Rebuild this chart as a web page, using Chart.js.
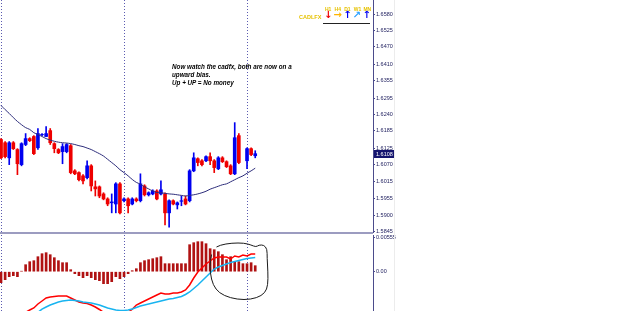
<!DOCTYPE html>
<html>
<head>
<meta charset="utf-8">
<script src="https://cdn.jsdelivr.net/npm/chart.js@4.4.1/dist/chart.umd.min.js"></script>
<style>
  body { margin: 0; background: #fff; width: 625px; height: 311px; overflow: hidden; position: relative; font-family: "Liberation Sans", Arial, sans-serif; }
  canvas { position: absolute; left: 0; }
  #main { top: 0; }
  #macd { top: 233px; }
  .sep { position: absolute; left: 0; top: 232px; width: 373px; height: 2px; background: #9c9cc0; }
  .edge { position: absolute; left: 394px; top: 0; width: 1px; height: 311px; background: #ececec; }
  .note { position: absolute; left: 172px; top: 63px; font: italic bold 6.3px "Liberation Sans", Arial, sans-serif; line-height: 8px; color: #000; white-space: nowrap; }
  .pair { position: absolute; left: 299px; top: 14px; font: bold 5.5px "Liberation Sans", Arial, sans-serif; color: #e6c200; }
  .tf { position: absolute; top: 6px; font: bold 5px "Liberation Sans", Arial, sans-serif; color: #e6c200; }
  .arr { position: absolute; top: 10px; font: bold 10px "DejaVu Sans", sans-serif; line-height: 10px; }
  .uline { position: absolute; left: 323px; top: 23px; width: 47px; height: 1px; background: #222; }
</style>
</head>
<body>
<canvas id="main" width="625" height="233"></canvas>
<canvas id="macd" width="625" height="78"></canvas>
<div class="sep"></div>
<div class="edge"></div>
<div class="note">Now watch the cadfx, both are now on a<br>upward bias.<br>Up + UP = No money</div>
<div class="pair">CADLFX</div>
<div id="tfbox"></div>
<div class="uline"></div>
<script>
// candles, oldest first
const open  = [1.6156,1.6145,1.6094,1.6145,1.6122,1.6071,1.6139,1.6159,1.6166,1.6128,
               1.6172,1.6166,1.6186,1.6142,1.6122,1.6115,1.6115,1.6135,1.6050,1.6044,
               1.6033,1.6027,1.6067,1.5996,1.5996,1.5972,1.5955,1.5942,1.5938,1.6006,
               1.5949,1.5955,1.5938,1.5955,1.5949,1.5999,1.5969,1.5972,1.5982,1.5972,
               1.5972,1.5908,1.5949,1.5935,1.5947,1.5955,1.5949,1.6050,1.6091,1.6084,
               1.6084,1.6098,1.6084,1.6057,1.6094,1.6081,1.6067,1.6040,1.6169,null,
               1.6084,1.6125,1.6101];
const high  = [1.6159,1.6149,1.6149,1.6149,1.6125,1.6145,1.6176,1.6162,1.6169,1.6193,
               1.6176,1.6200,1.6193,1.6145,1.6125,1.6142,1.6142,1.6139,1.6054,1.6047,
               1.6037,1.6084,1.6071,1.6016,1.5999,1.5976,1.5959,1.5972,1.6010,1.6010,
               1.5959,1.5959,1.5959,1.5959,1.6040,1.6003,1.5979,1.5986,1.5986,1.6016,
               1.5976,1.5952,1.5952,1.5945,1.5965,1.5965,1.6054,1.6111,1.6094,1.6088,
               1.6101,1.6111,1.6088,1.6098,1.6098,1.6084,1.6071,1.6213,1.6176,null,
               1.6128,1.6128,1.6118];
const low   = [1.6091,1.6094,1.6071,1.6122,1.6037,1.6067,1.6135,1.6149,1.6105,1.6122,
               1.6169,1.6166,1.6139,1.6111,1.6108,1.6074,1.6111,1.6040,1.6037,1.6016,
               1.6006,1.6023,1.5982,1.5965,1.5959,1.5952,1.5932,1.5908,1.5908,1.5904,
               1.5945,1.5908,1.5935,1.5945,1.5945,1.5965,1.5965,1.5969,1.5952,1.5969,
               1.5867,1.5860,1.5935,1.5921,1.5932,1.5935,1.5945,1.6047,1.6067,1.6067,
               1.6081,1.6071,1.6044,1.6054,1.6078,1.6061,1.6037,1.6037,1.6074,null,
               1.6057,1.6101,1.6094];
const close = [1.6094,1.6098,1.6145,1.6125,1.6074,1.6142,1.6159,1.6152,1.6108,1.6176,
               1.6173,1.6176,1.6145,1.6125,1.6111,1.6132,1.6139,1.6044,1.6040,1.6020,
               1.6016,1.6067,1.5999,1.5989,1.5965,1.5955,1.5938,1.5945,1.6006,1.5908,
               1.5955,1.5932,1.5955,1.5949,1.6006,1.5969,1.5976,1.5982,1.5955,1.5986,
               1.5908,1.5949,1.5938,1.5942,1.5949,1.5938,1.6050,1.6094,1.6078,1.6071,
               1.6098,1.6084,1.6061,1.6094,1.6081,1.6064,1.6040,1.6162,1.6078,null,
               1.6125,1.6105,1.6108];
// moving average
const ma    = [1.6271,1.6257,1.6244,1.6230,1.6217,1.6206,1.6196,1.6190,1.6179,1.6173,
               1.6166,1.6159,1.6154,1.6150,1.6147,1.6145,1.6144,1.6142,1.6139,1.6135,
               1.6132,1.6127,1.6122,1.6115,1.6108,1.6100,1.6089,1.6078,1.6067,1.6054,
               1.6044,1.6033,1.6021,1.6011,1.6005,1.5996,1.5989,1.5982,1.5977,1.5976,
               1.5974,1.5972,1.5971,1.5969,1.5967,1.5965,1.5967,1.5969,1.5972,1.5976,
               1.5981,1.5988,1.5993,1.5998,1.6003,1.6006,1.6013,1.6020,1.6027,1.6033,
               1.6042,1.6050,1.6059];
// lower window
const hist  = [-0.00176,-0.00128,-0.0008,-0.00064,-0.0008,0.00008,0.00112,0.0016,0.00176,0.0024,
               0.00288,0.00304,0.00272,0.00224,0.00176,0.00144,0.00144,0.00032,-0.00032,-0.00064,
               -0.00096,-0.00064,-0.00096,-0.00128,-0.00144,-0.00192,-0.00192,-0.0016,-0.0008,-0.00112,
               -0.0008,-0.00032,0.00016,0.00048,0.00144,0.00176,0.00192,0.00208,0.00224,0.0024,
               0.00128,0.00128,0.00128,0.00128,0.00128,0.00128,0.00432,0.00464,0.0048,0.0048,
               0.00448,0.00368,0.00352,0.0032,0.00272,0.00192,0.0024,0.0016,0.0016,0.00128,
               0.00128,0.00144,0.00096];
const redLine  = [-0.0085,-0.0082,-0.0078,-0.0074,-0.0071,-0.0068,-0.0065,-0.00613,-0.00581,-0.00517,
                  -0.00469,-0.00421,-0.00405,-0.00397,-0.00389,-0.00389,-0.0039,-0.00421,-0.00453,-0.00485,
                  -0.00501,-0.00509,-0.00533,-0.00565,-0.00605,-0.0065,-0.0068,-0.0070,-0.0070,-0.0069,
                  -0.0067,-0.0065,-0.0060,-0.00533,-0.00501,-0.00469,-0.00437,-0.00405,-0.00373,-0.00341,
                  -0.00357,-0.00357,-0.00341,-0.00341,-0.00325,-0.00293,-0.00213,-0.00101,-0.00005,0.00059,
                  0.00123,0.00171,0.00219,0.00235,0.00235,0.00235,0.00203,0.00251,0.00235,0.00267,
                  0.00251,0.00283,0.00283];
const cyanLine = [-0.0080,-0.0078,-0.0076,-0.0074,-0.0072,-0.0070,-0.0069,-0.0068,-0.0067,-0.0065,
                  -0.0060,-0.00565,-0.00533,-0.00509,-0.00485,-0.00469,-0.00461,-0.00453,-0.00461,-0.00469,
                  -0.00485,-0.00493,-0.00501,-0.00517,-0.00533,-0.00557,-0.00581,-0.00597,-0.00613,-0.00621,
                  -0.00621,-0.00613,-0.00597,-0.00573,-0.00549,-0.00533,-0.00517,-0.00501,-0.00485,-0.00469,
                  -0.00453,-0.00437,-0.00429,-0.00413,-0.00397,-0.00365,-0.00325,-0.00269,-0.00213,-0.00149,
                  -0.00085,-0.00021,0.00043,0.00075,0.00099,0.00123,0.00147,0.00163,0.00179,0.00195,
                  0.00211,0.00219,0.00227];
// axis labels
const priceTicks = [1.6580,1.6525,1.6470,1.6410,1.6355,1.6295,1.6240,1.6185,1.6125,1.6070,1.6015,1.5955,1.5900,1.5845];
const macdTicks = [0.00555, 0];
const macdTickLabels = ['0.00555', '0.00'];
const periodBreaks = [0, 30, 60];
// hand drawn ring around the crossing (bar index, value)
const ringIdx = [51.7,53.4,56.3,59.3,61.0,62.2,62.9,64.1,64.9,64.9,65.1,65.1,64.4,62.4,59.3,55.9,53.2,51.7,51.0,51.0,51.7];
const ringVal = [0.00363,0.00427,0.00459,0.00459,0.00427,0.00395,0.00427,0.00427,0.00363,0.00219,-0.00005,-0.00213,-0.00341,-0.00421,-0.00453,-0.00421,-0.00341,-0.00213,-0.00021,0.00187,0.00363];
const timeframes = ['H1', 'H4', 'D1', 'W1', 'MN'];
const tfArrows = ['\u2193', '\u2192', '\u2191', '\u2197', '\u2191'];

const BLUE = '#0000f0', RED = '#ee0000', AXIS = '#4b4b8b';
const X_MIN = -0.25, X_MAX = X_MIN + 373 / 4.1;

const tfColors = ['#ee0000', '#ffb400', '#0000f0', '#2aa0ff', '#0000f0'];
const tfbox = document.getElementById('tfbox');
timeframes.forEach((t, i) => {
  const l = document.createElement('div');
  l.className = 'tf'; l.textContent = t; l.style.left = (325 + i * 9.6) + 'px';
  tfbox.appendChild(l);
  const a = document.createElement('div');
  a.className = 'arr'; a.textContent = tfArrows[i]; a.style.color = tfColors[i];
  a.style.left = (324 + i * 9.6) + 'px';
  tfbox.appendChild(a);
});

const candleColor = i => (close[i] >= open[i] ? BLUE : RED);

function yAxis(min, max, ticks, fmt) {
  return {
    position: 'right', min, max,
    afterBuildTicks: s => { s.ticks = ticks.map(v => ({ value: v })); },
    afterFit: s => { s.width = 625 - 373; s.paddingTop = 0; s.paddingBottom = 0; },
    grid: { drawOnChartArea: false, drawTicks: true, tickLength: 2, color: AXIS },
    border: { display: true, color: AXIS },
    ticks: { padding: 1, color: '#1c1c5c', font: { family: 'Liberation Sans', size: 5.5 }, callback: fmt }
  };
}

const xAxis = { type: 'linear', min: X_MIN, max: X_MAX, offset: false, display: false };

const breaks = {
  id: 'breaks',
  beforeDatasetsDraw(chart) {
    const { ctx, chartArea, scales } = chart;
    ctx.save();
    ctx.strokeStyle = '#5a5ab0'; ctx.lineWidth = 1; ctx.setLineDash([1, 2]);
    periodBreaks.forEach(b => {
      const x = Math.round(scales.x.getPixelForValue(b)) + 0.5;
      ctx.beginPath(); ctx.moveTo(x, chartArea.top); ctx.lineTo(x, chartArea.bottom); ctx.stroke();
    });
    ctx.restore();
  }
};

const priceTag = {
  id: 'priceTag',
  afterDraw(chart) {
    const { ctx, scales } = chart;
    const last = close[close.length - 1];
    const y = scales.y.getPixelForValue(last);
    ctx.save();
    ctx.fillStyle = '#14146e';
    ctx.fillRect(374, Math.round(y) - 4, 21, 8);
    ctx.fillStyle = '#fff';
    ctx.font = '5.5px "Liberation Sans"';
    ctx.textBaseline = 'middle';
    ctx.fillText(last.toFixed(4), 376, Math.round(y));
    ctx.restore();
  }
};

const ring = {
  id: 'ring',
  afterDatasetsDraw(chart) {
    const { ctx, scales } = chart;
    const pts = ringIdx.map((v, i) => [scales.x.getPixelForValue(v), scales.y.getPixelForValue(ringVal[i])]);
    ctx.save();
    ctx.strokeStyle = '#1a1a1a'; ctx.lineWidth = 1;
    ctx.beginPath();
    ctx.moveTo((pts[0][0] + pts[1][0]) / 2, (pts[0][1] + pts[1][1]) / 2);
    for (let i = 1; i < pts.length - 1; i++) {
      const mx = (pts[i][0] + pts[i + 1][0]) / 2, my = (pts[i][1] + pts[i + 1][1]) / 2;
      ctx.quadraticCurveTo(pts[i][0], pts[i][1], mx, my);
    }
    ctx.stroke();
    ctx.restore();
  }
};

const idx = close.map((_, i) => i);
const bars = idx.filter(i => open[i] != null);

new Chart(document.getElementById('main'), {
  type: 'bar',
  data: {
    datasets: [
      {
        data: bars.map(i => ({ x: i, y: [low[i], high[i]] })),
        backgroundColor: c => (c.raw ? candleColor(c.raw.x) : BLUE), barThickness: 1, grouped: false, order: 2
      },
      {
        data: bars.map(i => ({ x: i, y: [open[i], close[i]] })),
        backgroundColor: c => (c.raw ? candleColor(c.raw.x) : BLUE), barThickness: 3, grouped: false, order: 1
      },
      {
        type: 'line', data: idx.map(i => ({ x: i, y: ma[i] })),
        borderColor: '#2c2c7a', borderWidth: 1, pointRadius: 0, tension: 0.3, order: 0
      }
    ]
  },
  options: {
    responsive: false, animation: false, events: [],
    layout: { padding: 0 },
    plugins: { legend: { display: false }, tooltip: { enabled: false } },
    scales: {
      x: xAxis,
      y: yAxis(1.58399, 1.66275, priceTicks, v => v.toFixed(4))
    }
  },
  plugins: [breaks, priceTag]
});

new Chart(document.getElementById('macd'), {
  type: 'bar',
  data: {
    datasets: [
      {
        data: idx.map(i => ({ x: i, y: hist[i] })),
        backgroundColor: '#b01212', barThickness: 2, grouped: false, order: 2
      },
      {
        type: 'line', data: idx.map(i => ({ x: i, y: redLine[i] })),
        borderColor: '#ff0000', borderWidth: 1.5, pointRadius: 0, order: 1
      },
      {
        type: 'line', data: idx.map(i => ({ x: i, y: cyanLine[i] })),
        borderColor: '#18b4f0', borderWidth: 1.5, pointRadius: 0, order: 0
      }
    ]
  },
  options: {
    responsive: false, animation: false, events: [],
    layout: { padding: { top: 2 } },
    plugins: { legend: { display: false }, tooltip: { enabled: false } },
    scales: {
      x: xAxis,
      y: yAxis(-0.00629, 0.00587, macdTicks, (v, i) => macdTickLabels[i])
    }
  },
  plugins: [breaks, ring]
});
</script>
</body>
</html>
